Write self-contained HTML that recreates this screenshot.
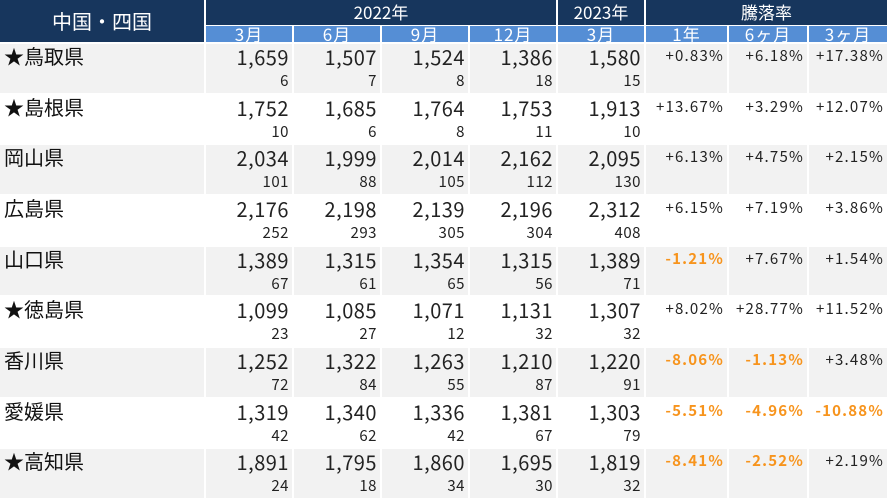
<!DOCTYPE html><html><head><meta charset="utf-8"><style>
body{margin:0;width:887px;height:499px;background:#fff;overflow:hidden;font-family:"Noto Sans CJK JP","Liberation Sans",sans-serif;position:relative}
div{position:absolute;box-sizing:border-box;white-space:nowrap}
.h1{background:#17365d;color:#fff;text-align:center;font-size:17px;line-height:24px;top:0;height:25px}
.h2{background:#558ed5;color:#fff;text-align:center;font-size:17px;line-height:16px;top:26px;height:16px;overflow:hidden;letter-spacing:1px}
.big{font-size:20px;color:#222;text-align:right;height:26px;line-height:26px;letter-spacing:0.5px}
.sm{font-size:15px;color:#222;text-align:right;line-height:18px;letter-spacing:0.5px}
.p{font-size:15px;color:#222;text-align:right;line-height:22px;letter-spacing:1.2px}
.o{color:#f7941d;font-weight:bold}
.n{font-size:20px;color:#111;line-height:26px}
</style></head><body>
<div class="h1" style="left:0;width:204px;height:42px;line-height:42px;font-size:20px">中国・四国</div>
<div class="h1" style="left:206px;width:350px">2022年</div>
<div class="h1" style="left:558px;width:86px">2023年</div>
<div class="h1" style="left:646px;width:241px">騰落率</div>
<div class="h2" style="left:206px;width:86px">3月</div>
<div class="h2" style="left:294px;width:86px">6月</div>
<div class="h2" style="left:382px;width:86px">9月</div>
<div class="h2" style="left:470px;width:86px">12月</div>
<div class="h2" style="left:558px;width:86px">3月</div>
<div class="h2" style="left:646px;width:81px">1年</div>
<div class="h2" style="left:729px;width:78px">6ヶ月</div>
<div class="h2" style="left:809px;width:78px">3ヶ月</div>
<div id="t"></div>
<script>
var d=[["★鳥取県",[1659,1507,1524,1386,1580],[6,7,8,18,15],["+0.83%","+6.18%","+17.38%"]],
["★島根県",[1752,1685,1764,1753,1913],[10,6,8,11,10],["+13.67%","+3.29%","+12.07%"]],
["岡山県",[2034,1999,2014,2162,2095],[101,88,105,112,130],["+6.13%","+4.75%","+2.15%"]],
["広島県",[2176,2198,2139,2196,2312],[252,293,305,304,408],["+6.15%","+7.19%","+3.86%"]],
["山口県",[1389,1315,1354,1315,1389],[67,61,65,56,71],["-1.21%","+7.67%","+1.54%"]],
["★徳島県",[1099,1085,1071,1131,1307],[23,27,12,32,32],["+8.02%","+28.77%","+11.52%"]],
["香川県",[1252,1322,1263,1210,1220],[72,84,55,87,91],["-8.06%","-1.13%","+3.48%"]],
["愛媛県",[1319,1340,1336,1381,1303],[42,62,42,67,79],["-5.51%","-4.96%","-10.88%"]],
["★高知県",[1891,1795,1860,1695,1819],[24,18,34,30,32],["-8.41%","-2.52%","+2.19%"]]];
var cols=[[0,204],[206,86],[294,86],[382,86],[470,86],[558,86],[646,81],[729,78],[809,78]];
var h="";
d.forEach(function(r,i){var top=43+i*50.67,bg=i%2==0?"#f2f2f2":"#fff";
cols.forEach(function(c){h+='<div style="left:'+c[0]+'px;top:'+(top+1)+'px;width:'+c[1]+'px;height:48.6px;background:'+bg+'"></div>';});
h+='<div class="n" style="left:4px;top:'+(top)+'px">'+r[0]+'</div>';
for(var k=0;k<5;k++){var c=cols[k+1];
h+='<div class="big" style="left:'+c[0]+'px;width:'+(c[1]-3)+'px;top:'+(top+1)+'px">'+r[1][k].toLocaleString("en-US")+'</div>';
h+='<div class="sm" style="left:'+c[0]+'px;width:'+(c[1]-3)+'px;top:'+(top+29)+'px">'+r[2][k]+'</div>';}
for(var k=0;k<3;k++){var c=cols[k+6],v=r[3][k];
h+='<div class="p'+(v[0]=="-"?" o":"")+'" style="left:'+c[0]+'px;width:'+(c[1]-3)+'px;top:'+(top+2)+'px">'+v+'</div>';}
});
document.getElementById("t").outerHTML=h;
</script>
</body></html>
